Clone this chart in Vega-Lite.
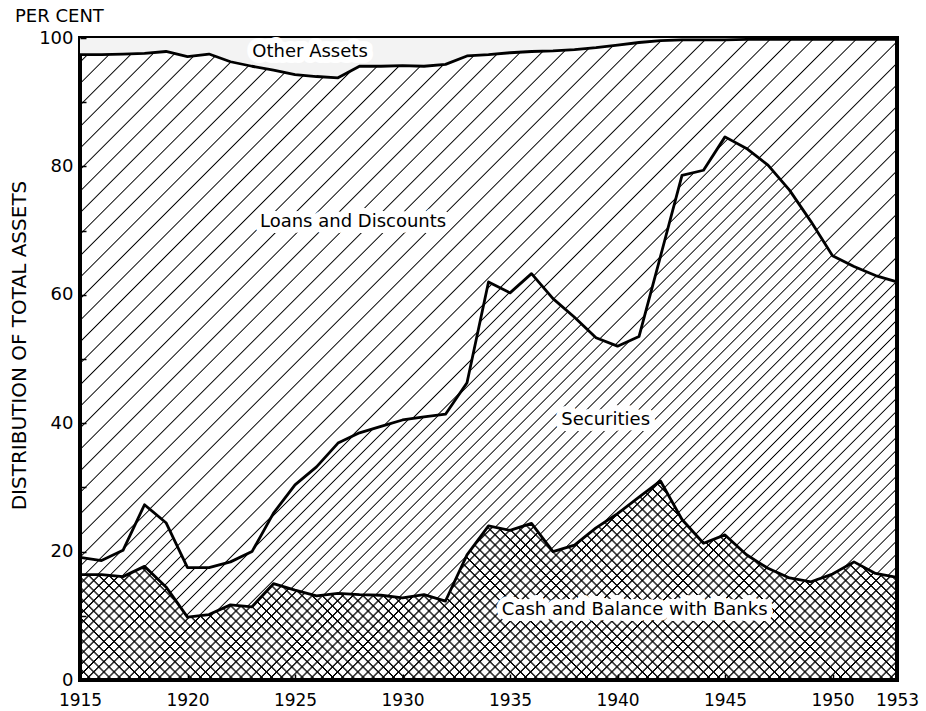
{
"width": 817, "height": 642,
"autosize": "none",
"padding": {"left": 80, "top": 38, "right": 29, "bottom": 31},
"background": "#ffffff",
"params": [
{"name": "sA", "value": [
{"offset":0,"color":"#0000"},{"offset":0.001,"color":"#000"},{"offset":0.002,"color":"#0000"},
{"offset":0.016,"color":"#0000"},{"offset":0.017,"color":"#000"},{"offset":0.018,"color":"#0000"},
{"offset":0.032,"color":"#0000"},{"offset":0.033,"color":"#000"},{"offset":0.034,"color":"#0000"},
{"offset":0.048,"color":"#0000"},{"offset":0.049,"color":"#000"},{"offset":0.05,"color":"#0000"},
{"offset":0.064,"color":"#0000"},{"offset":0.065,"color":"#000"},{"offset":0.066,"color":"#0000"},
{"offset":0.08,"color":"#0000"},{"offset":0.081,"color":"#000"},{"offset":0.082,"color":"#0000"},
{"offset":0.096,"color":"#0000"},{"offset":0.097,"color":"#000"},{"offset":0.098,"color":"#0000"},
{"offset":0.112,"color":"#0000"},{"offset":0.113,"color":"#000"},{"offset":0.114,"color":"#0000"},
{"offset":0.128,"color":"#0000"},{"offset":0.129,"color":"#000"},{"offset":0.13,"color":"#0000"},
{"offset":0.144,"color":"#0000"},{"offset":0.145,"color":"#000"},{"offset":0.146,"color":"#0000"},
{"offset":0.16,"color":"#0000"},{"offset":0.161,"color":"#000"},{"offset":0.162,"color":"#0000"},
{"offset":0.176,"color":"#0000"},{"offset":0.177,"color":"#000"},{"offset":0.178,"color":"#0000"},
{"offset":0.192,"color":"#0000"},{"offset":0.193,"color":"#000"},{"offset":0.194,"color":"#0000"},
{"offset":0.208,"color":"#0000"},{"offset":0.209,"color":"#000"},{"offset":0.21,"color":"#0000"},
{"offset":0.224,"color":"#0000"},{"offset":0.225,"color":"#000"},{"offset":0.226,"color":"#0000"},
{"offset":0.24,"color":"#0000"},{"offset":0.241,"color":"#000"},{"offset":0.242,"color":"#0000"},
{"offset":0.256,"color":"#0000"},{"offset":0.257,"color":"#000"},{"offset":0.258,"color":"#0000"},
{"offset":0.272,"color":"#0000"},{"offset":0.273,"color":"#000"},{"offset":0.274,"color":"#0000"},
{"offset":0.288,"color":"#0000"},{"offset":0.289,"color":"#000"},{"offset":0.29,"color":"#0000"},
{"offset":0.304,"color":"#0000"},{"offset":0.305,"color":"#000"},{"offset":0.306,"color":"#0000"},
{"offset":0.32,"color":"#0000"},{"offset":0.321,"color":"#000"},{"offset":0.322,"color":"#0000"},
{"offset":0.336,"color":"#0000"},{"offset":0.337,"color":"#000"},{"offset":0.338,"color":"#0000"},
{"offset":0.352,"color":"#0000"},{"offset":0.353,"color":"#000"},{"offset":0.354,"color":"#0000"},
{"offset":0.368,"color":"#0000"},{"offset":0.369,"color":"#000"},{"offset":0.37,"color":"#0000"},
{"offset":0.384,"color":"#0000"},{"offset":0.385,"color":"#000"},{"offset":0.386,"color":"#0000"},
{"offset":0.4,"color":"#0000"},{"offset":0.401,"color":"#000"},{"offset":0.402,"color":"#0000"},
{"offset":0.416,"color":"#0000"},{"offset":0.417,"color":"#000"},{"offset":0.418,"color":"#0000"},
{"offset":0.432,"color":"#0000"},{"offset":0.433,"color":"#000"},{"offset":0.434,"color":"#0000"},
{"offset":0.448,"color":"#0000"},{"offset":0.449,"color":"#000"},{"offset":0.45,"color":"#0000"},
{"offset":0.464,"color":"#0000"},{"offset":0.465,"color":"#000"},{"offset":0.466,"color":"#0000"},
{"offset":0.48,"color":"#0000"},{"offset":0.481,"color":"#000"},{"offset":0.482,"color":"#0000"},
{"offset":0.496,"color":"#0000"},{"offset":0.497,"color":"#000"},{"offset":0.498,"color":"#0000"},
{"offset":0.512,"color":"#0000"},{"offset":0.513,"color":"#000"},{"offset":0.514,"color":"#0000"},
{"offset":0.528,"color":"#0000"},{"offset":0.529,"color":"#000"},{"offset":0.53,"color":"#0000"},
{"offset":0.544,"color":"#0000"},{"offset":0.545,"color":"#000"},{"offset":0.546,"color":"#0000"},
{"offset":0.56,"color":"#0000"},{"offset":0.561,"color":"#000"},{"offset":0.562,"color":"#0000"},
{"offset":0.576,"color":"#0000"},{"offset":0.577,"color":"#000"},{"offset":0.578,"color":"#0000"},
{"offset":0.592,"color":"#0000"},{"offset":0.593,"color":"#000"},{"offset":0.594,"color":"#0000"},
{"offset":0.608,"color":"#0000"},{"offset":0.609,"color":"#000"},{"offset":0.61,"color":"#0000"},
{"offset":0.624,"color":"#0000"},{"offset":0.625,"color":"#000"},{"offset":0.626,"color":"#0000"},
{"offset":0.64,"color":"#0000"},{"offset":0.641,"color":"#000"},{"offset":0.642,"color":"#0000"},
{"offset":0.656,"color":"#0000"},{"offset":0.657,"color":"#000"},{"offset":0.658,"color":"#0000"},
{"offset":0.672,"color":"#0000"},{"offset":0.673,"color":"#000"},{"offset":0.674,"color":"#0000"},
{"offset":0.688,"color":"#0000"},{"offset":0.689,"color":"#000"},{"offset":0.69,"color":"#0000"},
{"offset":0.704,"color":"#0000"},{"offset":0.705,"color":"#000"},{"offset":0.706,"color":"#0000"},
{"offset":0.72,"color":"#0000"},{"offset":0.721,"color":"#000"},{"offset":0.722,"color":"#0000"},
{"offset":0.736,"color":"#0000"},{"offset":0.737,"color":"#000"},{"offset":0.738,"color":"#0000"},
{"offset":0.752,"color":"#0000"},{"offset":0.753,"color":"#000"},{"offset":0.754,"color":"#0000"},
{"offset":0.768,"color":"#0000"},{"offset":0.769,"color":"#000"},{"offset":0.77,"color":"#0000"},
{"offset":0.784,"color":"#0000"},{"offset":0.785,"color":"#000"},{"offset":0.786,"color":"#0000"},
{"offset":0.8,"color":"#0000"},{"offset":0.801,"color":"#000"},{"offset":0.802,"color":"#0000"},
{"offset":0.816,"color":"#0000"},{"offset":0.817,"color":"#000"},{"offset":0.818,"color":"#0000"},
{"offset":0.832,"color":"#0000"},{"offset":0.833,"color":"#000"},{"offset":0.834,"color":"#0000"},
{"offset":0.848,"color":"#0000"},{"offset":0.849,"color":"#000"},{"offset":0.85,"color":"#0000"},
{"offset":0.864,"color":"#0000"},{"offset":0.865,"color":"#000"},{"offset":0.866,"color":"#0000"},
{"offset":0.88,"color":"#0000"},{"offset":0.881,"color":"#000"},{"offset":0.882,"color":"#0000"},
{"offset":0.896,"color":"#0000"},{"offset":0.897,"color":"#000"},{"offset":0.898,"color":"#0000"},
{"offset":0.912,"color":"#0000"},{"offset":0.913,"color":"#000"},{"offset":0.914,"color":"#0000"},
{"offset":0.928,"color":"#0000"},{"offset":0.929,"color":"#000"},{"offset":0.93,"color":"#0000"},
{"offset":0.944,"color":"#0000"},{"offset":0.945,"color":"#000"},{"offset":0.946,"color":"#0000"},
{"offset":0.96,"color":"#0000"},{"offset":0.961,"color":"#000"},{"offset":0.962,"color":"#0000"},
{"offset":0.976,"color":"#0000"},{"offset":0.977,"color":"#000"},{"offset":0.978,"color":"#0000"},
{"offset":0.992,"color":"#0000"},{"offset":0.993,"color":"#000"},{"offset":0.994,"color":"#0000"}
]},
{"name": "sB", "value": [
{"offset":0,"color":"#0000"},{"offset":0.001,"color":"#000"},{"offset":0.002,"color":"#0000"},
{"offset":0.01,"color":"#0000"},{"offset":0.011,"color":"#000"},{"offset":0.012,"color":"#0000"},
{"offset":0.02,"color":"#0000"},{"offset":0.021,"color":"#000"},{"offset":0.022,"color":"#0000"},
{"offset":0.03,"color":"#0000"},{"offset":0.031,"color":"#000"},{"offset":0.032,"color":"#0000"},
{"offset":0.04,"color":"#0000"},{"offset":0.041,"color":"#000"},{"offset":0.042,"color":"#0000"},
{"offset":0.05,"color":"#0000"},{"offset":0.051,"color":"#000"},{"offset":0.052,"color":"#0000"},
{"offset":0.06,"color":"#0000"},{"offset":0.061,"color":"#000"},{"offset":0.062,"color":"#0000"},
{"offset":0.07,"color":"#0000"},{"offset":0.071,"color":"#000"},{"offset":0.072,"color":"#0000"},
{"offset":0.08,"color":"#0000"},{"offset":0.081,"color":"#000"},{"offset":0.082,"color":"#0000"},
{"offset":0.09,"color":"#0000"},{"offset":0.091,"color":"#000"},{"offset":0.092,"color":"#0000"},
{"offset":0.1,"color":"#0000"},{"offset":0.101,"color":"#000"},{"offset":0.102,"color":"#0000"},
{"offset":0.11,"color":"#0000"},{"offset":0.111,"color":"#000"},{"offset":0.112,"color":"#0000"},
{"offset":0.12,"color":"#0000"},{"offset":0.121,"color":"#000"},{"offset":0.122,"color":"#0000"},
{"offset":0.13,"color":"#0000"},{"offset":0.131,"color":"#000"},{"offset":0.132,"color":"#0000"},
{"offset":0.14,"color":"#0000"},{"offset":0.141,"color":"#000"},{"offset":0.142,"color":"#0000"},
{"offset":0.15,"color":"#0000"},{"offset":0.151,"color":"#000"},{"offset":0.152,"color":"#0000"},
{"offset":0.16,"color":"#0000"},{"offset":0.161,"color":"#000"},{"offset":0.162,"color":"#0000"},
{"offset":0.17,"color":"#0000"},{"offset":0.171,"color":"#000"},{"offset":0.172,"color":"#0000"},
{"offset":0.18,"color":"#0000"},{"offset":0.181,"color":"#000"},{"offset":0.182,"color":"#0000"},
{"offset":0.19,"color":"#0000"},{"offset":0.191,"color":"#000"},{"offset":0.192,"color":"#0000"},
{"offset":0.2,"color":"#0000"},{"offset":0.201,"color":"#000"},{"offset":0.202,"color":"#0000"},
{"offset":0.21,"color":"#0000"},{"offset":0.211,"color":"#000"},{"offset":0.212,"color":"#0000"},
{"offset":0.22,"color":"#0000"},{"offset":0.221,"color":"#000"},{"offset":0.222,"color":"#0000"},
{"offset":0.23,"color":"#0000"},{"offset":0.231,"color":"#000"},{"offset":0.232,"color":"#0000"},
{"offset":0.24,"color":"#0000"},{"offset":0.241,"color":"#000"},{"offset":0.242,"color":"#0000"},
{"offset":0.25,"color":"#0000"},{"offset":0.251,"color":"#000"},{"offset":0.252,"color":"#0000"},
{"offset":0.26,"color":"#0000"},{"offset":0.261,"color":"#000"},{"offset":0.262,"color":"#0000"},
{"offset":0.27,"color":"#0000"},{"offset":0.271,"color":"#000"},{"offset":0.272,"color":"#0000"},
{"offset":0.28,"color":"#0000"},{"offset":0.281,"color":"#000"},{"offset":0.282,"color":"#0000"},
{"offset":0.29,"color":"#0000"},{"offset":0.291,"color":"#000"},{"offset":0.292,"color":"#0000"},
{"offset":0.3,"color":"#0000"},{"offset":0.301,"color":"#000"},{"offset":0.302,"color":"#0000"},
{"offset":0.31,"color":"#0000"},{"offset":0.311,"color":"#000"},{"offset":0.312,"color":"#0000"},
{"offset":0.32,"color":"#0000"},{"offset":0.321,"color":"#000"},{"offset":0.322,"color":"#0000"},
{"offset":0.33,"color":"#0000"},{"offset":0.331,"color":"#000"},{"offset":0.332,"color":"#0000"},
{"offset":0.34,"color":"#0000"},{"offset":0.341,"color":"#000"},{"offset":0.342,"color":"#0000"},
{"offset":0.35,"color":"#0000"},{"offset":0.351,"color":"#000"},{"offset":0.352,"color":"#0000"},
{"offset":0.36,"color":"#0000"},{"offset":0.361,"color":"#000"},{"offset":0.362,"color":"#0000"},
{"offset":0.37,"color":"#0000"},{"offset":0.371,"color":"#000"},{"offset":0.372,"color":"#0000"},
{"offset":0.38,"color":"#0000"},{"offset":0.381,"color":"#000"},{"offset":0.382,"color":"#0000"},
{"offset":0.39,"color":"#0000"},{"offset":0.391,"color":"#000"},{"offset":0.392,"color":"#0000"},
{"offset":0.4,"color":"#0000"},{"offset":0.401,"color":"#000"},{"offset":0.402,"color":"#0000"},
{"offset":0.41,"color":"#0000"},{"offset":0.411,"color":"#000"},{"offset":0.412,"color":"#0000"},
{"offset":0.42,"color":"#0000"},{"offset":0.421,"color":"#000"},{"offset":0.422,"color":"#0000"},
{"offset":0.43,"color":"#0000"},{"offset":0.431,"color":"#000"},{"offset":0.432,"color":"#0000"},
{"offset":0.44,"color":"#0000"},{"offset":0.441,"color":"#000"},{"offset":0.442,"color":"#0000"},
{"offset":0.45,"color":"#0000"},{"offset":0.451,"color":"#000"},{"offset":0.452,"color":"#0000"},
{"offset":0.46,"color":"#0000"},{"offset":0.461,"color":"#000"},{"offset":0.462,"color":"#0000"},
{"offset":0.47,"color":"#0000"},{"offset":0.471,"color":"#000"},{"offset":0.472,"color":"#0000"},
{"offset":0.48,"color":"#0000"},{"offset":0.481,"color":"#000"},{"offset":0.482,"color":"#0000"},
{"offset":0.49,"color":"#0000"},{"offset":0.491,"color":"#000"},{"offset":0.492,"color":"#0000"},
{"offset":0.5,"color":"#0000"},{"offset":0.501,"color":"#000"},{"offset":0.502,"color":"#0000"},
{"offset":0.51,"color":"#0000"},{"offset":0.511,"color":"#000"},{"offset":0.512,"color":"#0000"},
{"offset":0.52,"color":"#0000"},{"offset":0.521,"color":"#000"},{"offset":0.522,"color":"#0000"},
{"offset":0.53,"color":"#0000"},{"offset":0.531,"color":"#000"},{"offset":0.532,"color":"#0000"},
{"offset":0.54,"color":"#0000"},{"offset":0.541,"color":"#000"},{"offset":0.542,"color":"#0000"},
{"offset":0.55,"color":"#0000"},{"offset":0.551,"color":"#000"},{"offset":0.552,"color":"#0000"},
{"offset":0.56,"color":"#0000"},{"offset":0.561,"color":"#000"},{"offset":0.562,"color":"#0000"},
{"offset":0.57,"color":"#0000"},{"offset":0.571,"color":"#000"},{"offset":0.572,"color":"#0000"},
{"offset":0.58,"color":"#0000"},{"offset":0.581,"color":"#000"},{"offset":0.582,"color":"#0000"},
{"offset":0.59,"color":"#0000"},{"offset":0.591,"color":"#000"},{"offset":0.592,"color":"#0000"},
{"offset":0.6,"color":"#0000"},{"offset":0.601,"color":"#000"},{"offset":0.602,"color":"#0000"},
{"offset":0.61,"color":"#0000"},{"offset":0.611,"color":"#000"},{"offset":0.612,"color":"#0000"},
{"offset":0.62,"color":"#0000"},{"offset":0.621,"color":"#000"},{"offset":0.622,"color":"#0000"},
{"offset":0.63,"color":"#0000"},{"offset":0.631,"color":"#000"},{"offset":0.632,"color":"#0000"},
{"offset":0.64,"color":"#0000"},{"offset":0.641,"color":"#000"},{"offset":0.642,"color":"#0000"},
{"offset":0.65,"color":"#0000"},{"offset":0.651,"color":"#000"},{"offset":0.652,"color":"#0000"},
{"offset":0.66,"color":"#0000"},{"offset":0.661,"color":"#000"},{"offset":0.662,"color":"#0000"},
{"offset":0.67,"color":"#0000"},{"offset":0.671,"color":"#000"},{"offset":0.672,"color":"#0000"},
{"offset":0.68,"color":"#0000"},{"offset":0.681,"color":"#000"},{"offset":0.682,"color":"#0000"},
{"offset":0.69,"color":"#0000"},{"offset":0.691,"color":"#000"},{"offset":0.692,"color":"#0000"},
{"offset":0.7,"color":"#0000"},{"offset":0.701,"color":"#000"},{"offset":0.702,"color":"#0000"},
{"offset":0.71,"color":"#0000"},{"offset":0.711,"color":"#000"},{"offset":0.712,"color":"#0000"},
{"offset":0.72,"color":"#0000"},{"offset":0.721,"color":"#000"},{"offset":0.722,"color":"#0000"},
{"offset":0.73,"color":"#0000"},{"offset":0.731,"color":"#000"},{"offset":0.732,"color":"#0000"},
{"offset":0.74,"color":"#0000"},{"offset":0.741,"color":"#000"},{"offset":0.742,"color":"#0000"},
{"offset":0.75,"color":"#0000"},{"offset":0.751,"color":"#000"},{"offset":0.752,"color":"#0000"},
{"offset":0.76,"color":"#0000"},{"offset":0.761,"color":"#000"},{"offset":0.762,"color":"#0000"},
{"offset":0.77,"color":"#0000"},{"offset":0.771,"color":"#000"},{"offset":0.772,"color":"#0000"},
{"offset":0.78,"color":"#0000"},{"offset":0.781,"color":"#000"},{"offset":0.782,"color":"#0000"},
{"offset":0.79,"color":"#0000"},{"offset":0.791,"color":"#000"},{"offset":0.792,"color":"#0000"},
{"offset":0.8,"color":"#0000"},{"offset":0.801,"color":"#000"},{"offset":0.802,"color":"#0000"},
{"offset":0.81,"color":"#0000"},{"offset":0.811,"color":"#000"},{"offset":0.812,"color":"#0000"},
{"offset":0.82,"color":"#0000"},{"offset":0.821,"color":"#000"},{"offset":0.822,"color":"#0000"},
{"offset":0.83,"color":"#0000"},{"offset":0.831,"color":"#000"},{"offset":0.832,"color":"#0000"},
{"offset":0.84,"color":"#0000"},{"offset":0.841,"color":"#000"},{"offset":0.842,"color":"#0000"},
{"offset":0.85,"color":"#0000"},{"offset":0.851,"color":"#000"},{"offset":0.852,"color":"#0000"},
{"offset":0.86,"color":"#0000"},{"offset":0.861,"color":"#000"},{"offset":0.862,"color":"#0000"},
{"offset":0.87,"color":"#0000"},{"offset":0.871,"color":"#000"},{"offset":0.872,"color":"#0000"},
{"offset":0.88,"color":"#0000"},{"offset":0.881,"color":"#000"},{"offset":0.882,"color":"#0000"},
{"offset":0.89,"color":"#0000"},{"offset":0.891,"color":"#000"},{"offset":0.892,"color":"#0000"},
{"offset":0.9,"color":"#0000"},{"offset":0.901,"color":"#000"},{"offset":0.902,"color":"#0000"},
{"offset":0.91,"color":"#0000"},{"offset":0.911,"color":"#000"},{"offset":0.912,"color":"#0000"},
{"offset":0.92,"color":"#0000"},{"offset":0.921,"color":"#000"},{"offset":0.922,"color":"#0000"},
{"offset":0.93,"color":"#0000"},{"offset":0.931,"color":"#000"},{"offset":0.932,"color":"#0000"},
{"offset":0.94,"color":"#0000"},{"offset":0.941,"color":"#000"},{"offset":0.942,"color":"#0000"},
{"offset":0.95,"color":"#0000"},{"offset":0.951,"color":"#000"},{"offset":0.952,"color":"#0000"},
{"offset":0.96,"color":"#0000"},{"offset":0.961,"color":"#000"},{"offset":0.962,"color":"#0000"},
{"offset":0.97,"color":"#0000"},{"offset":0.971,"color":"#000"},{"offset":0.972,"color":"#0000"},
{"offset":0.98,"color":"#0000"},{"offset":0.981,"color":"#000"},{"offset":0.982,"color":"#0000"},
{"offset":0.99,"color":"#0000"},{"offset":0.991,"color":"#000"},{"offset":0.992,"color":"#0000"}
]}
],
"title": {"text": "PER CENT", "anchor": "start", "frame": "group", "dx": -65, "dy": 24, "offset": 9, "baseline": "bottom", "font": "DejaVu Sans", "fontSize": 18, "fontWeight": "normal", "color": "#000"},
"config": {
  "font": "DejaVu Sans",
  "view": {"stroke": "#000", "strokeWidth": 4}
},
"datasets": {
  "shares": [
    {"year":1915,"cash":16.4,"securities_top":19.1,"loans_top":97.4},
    {"year":1916,"cash":16.4,"securities_top":18.6,"loans_top":97.4},
    {"year":1917,"cash":16.1,"securities_top":20.2,"loans_top":97.5},
    {"year":1918,"cash":17.7,"securities_top":27.3,"loans_top":97.6},
    {"year":1919,"cash":14.5,"securities_top":24.5,"loans_top":97.9},
    {"year":1920,"cash":9.8,"securities_top":17.5,"loans_top":97.1},
    {"year":1921,"cash":10.2,"securities_top":17.5,"loans_top":97.5},
    {"year":1922,"cash":11.7,"securities_top":18.4,"loans_top":96.3},
    {"year":1923,"cash":11.4,"securities_top":20.0,"loans_top":95.6},
    {"year":1924,"cash":15.0,"securities_top":26.0,"loans_top":95.0},
    {"year":1925,"cash":14.0,"securities_top":30.4,"loans_top":94.3},
    {"year":1926,"cash":13.1,"securities_top":33.2,"loans_top":94.0},
    {"year":1927,"cash":13.5,"securities_top":36.9,"loans_top":93.8},
    {"year":1928,"cash":13.3,"securities_top":38.5,"loans_top":95.6},
    {"year":1929,"cash":13.2,"securities_top":39.5,"loans_top":95.6},
    {"year":1930,"cash":12.8,"securities_top":40.5,"loans_top":95.7},
    {"year":1931,"cash":13.3,"securities_top":41.0,"loans_top":95.6},
    {"year":1932,"cash":12.3,"securities_top":41.4,"loans_top":95.9},
    {"year":1933,"cash":19.5,"securities_top":46.3,"loans_top":97.2},
    {"year":1934,"cash":24.0,"securities_top":62.0,"loans_top":97.4},
    {"year":1935,"cash":23.3,"securities_top":60.3,"loans_top":97.7},
    {"year":1936,"cash":24.4,"securities_top":63.3,"loans_top":97.9},
    {"year":1937,"cash":20.0,"securities_top":59.4,"loans_top":98.0},
    {"year":1938,"cash":21.0,"securities_top":56.5,"loans_top":98.2},
    {"year":1939,"cash":23.7,"securities_top":53.3,"loans_top":98.5},
    {"year":1940,"cash":25.9,"securities_top":52.0,"loans_top":98.9},
    {"year":1941,"cash":28.5,"securities_top":53.5,"loans_top":99.3},
    {"year":1942,"cash":31.0,"securities_top":66.0,"loans_top":99.6},
    {"year":1943,"cash":25.0,"securities_top":78.6,"loans_top":99.7},
    {"year":1944,"cash":21.3,"securities_top":79.4,"loans_top":99.7},
    {"year":1945,"cash":22.6,"securities_top":84.6,"loans_top":99.7},
    {"year":1946,"cash":19.5,"securities_top":82.8,"loans_top":99.8},
    {"year":1947,"cash":17.4,"securities_top":80.2,"loans_top":99.8},
    {"year":1948,"cash":15.9,"securities_top":76.3,"loans_top":99.8},
    {"year":1949,"cash":15.3,"securities_top":71.4,"loans_top":99.8},
    {"year":1950,"cash":16.5,"securities_top":66.1,"loans_top":99.8},
    {"year":1951,"cash":18.4,"securities_top":64.4,"loans_top":99.8},
    {"year":1952,"cash":16.6,"securities_top":63.0,"loans_top":99.8},
    {"year":1953,"cash":16.0,"securities_top":62.0,"loans_top":99.8}
  ],
  "labels": [
    {"label":"Other Assets","year":1925.7,"value":97.8},
    {"label":"Loans and Discounts","year":1927.7,"value":71.3},
    {"label":"Securities","year":1939.45,"value":40.5},
    {"label":"Cash and Balance with Banks","year":1940.8,"value":10.9}
  ]
},
"data": {"name": "shares"},
"encoding": {
  "x": {"field": "year", "type": "quantitative",
    "scale": {"domain": [1915, 1953], "nice": false, "zero": false},
    "axis": {"values": [1915,1920,1925,1930,1935,1940,1945,1950,1953], "format": "d", "title": null,
      "labelFont": "DejaVu Sans", "labelFontSize": 17, "labelColor": "#000", "labelPadding": 18,
      "tickSize": -6, "tickWidth": 1.5, "tickColor": "#000", "domain": false, "grid": false,
      "labelFlush": false, "labelOverlap": false, "labelBound": false, "zindex": 1}}
},
"layer": [
  {"mark": {"type": "area", "fill": "#f3f3f3", "opacity": 1},
   "encoding": {
     "y": {"field": "loans_top", "type": "quantitative",
       "scale": {"domain": [0, 100], "nice": false},
       "axis": {"values": [0,10,20,30,40,50,60,70,80,90,100],
         "labelExpr": "datum.value % 20 === 0 ? datum.label : ''",
         "title": "DISTRIBUTION OF TOTAL ASSETS", "titleFont": "DejaVu Sans", "titleFontSize": 20, "titleFontWeight": "normal", "titleColor": "#000",
         "titleX": -61, "titleY": 307, "titleAngle": 270, "titleAlign": "center", "titleBaseline": "middle",
         "labelFont": "DejaVu Sans", "labelFontSize": 18, "labelColor": "#000", "labelPadding": 13,
         "tickSize": -6, "tickWidth": 1.5, "tickColor": "#000", "domain": false, "grid": false,
         "labelFlush": false, "labelOverlap": false, "labelBound": false, "zindex": 1}},
     "y2": {"datum": 100}}},
  {"mark": {"type": "area", "opacity": 1, "fill": {"expr": "{gradient:'linear',x1:0,y1:0,x2:1.1611,y2:0.7509,stops:sA}"}},
   "encoding": {"y": {"field": "loans_top", "type": "quantitative"}, "y2": {"field": "securities_top"}}},
  {"mark": {"type": "area", "opacity": 1, "fill": {"expr": "{gradient:'linear',x1:0,y1:0,x2:1.1801,y2:0.6936,stops:sB}"}},
   "encoding": {"y": {"field": "securities_top", "type": "quantitative"}, "y2": {"field": "cash"}}},
  {"mark": {"type": "area", "opacity": 1, "fill": {"expr": "{gradient:'linear',x1:0,y1:0,x2:1.1739,y2:0.286,stops:sB}"}},
   "encoding": {"y": {"field": "cash", "type": "quantitative"}, "y2": {"datum": 0}}},
  {"mark": {"type": "area", "opacity": 1, "fill": {"expr": "{gradient:'linear',x1:0.0012,y1:0,x2:1.1751,y2:0.286,stops:sB}"}},
   "encoding": {"y": {"field": "cash", "type": "quantitative"}, "y2": {"datum": 0}}},
  {"mark": {"type": "area", "opacity": 1, "fill": {"expr": "{gradient:'linear',x1:0,y1:1,x2:1.1739,y2:0.714,stops:sB}"}},
   "encoding": {"y": {"field": "cash", "type": "quantitative"}, "y2": {"datum": 0}}},
  {"mark": {"type": "area", "opacity": 1, "fill": {"expr": "{gradient:'linear',x1:0.0012,y1:1,x2:1.1751,y2:0.714,stops:sB}"}},
   "encoding": {"y": {"field": "cash", "type": "quantitative"}, "y2": {"datum": 0}}},
  {"mark": {"type": "line", "color": "#000", "strokeWidth": 2.8, "strokeJoin": "round"},
   "encoding": {"y": {"field": "loans_top", "type": "quantitative"}}},
  {"mark": {"type": "line", "color": "#000", "strokeWidth": 2.8, "strokeJoin": "round"},
   "encoding": {"y": {"field": "securities_top", "type": "quantitative"}}},
  {"mark": {"type": "line", "color": "#000", "strokeWidth": 2.8, "strokeJoin": "round"},
   "encoding": {"y": {"field": "cash", "type": "quantitative"}}},
  {"data": {"name": "labels"},
   "mark": {"type": "text", "font": "DejaVu Sans", "fontSize": 18, "align": "center", "baseline": "middle", "fill": "#fff", "stroke": "#fff", "strokeWidth": 12, "strokeJoin": "round"},
   "encoding": {"y": {"field": "value", "type": "quantitative"}, "text": {"field": "label"}}},
  {"data": {"name": "labels"},
   "mark": {"type": "text", "font": "DejaVu Sans", "fontSize": 18, "align": "center", "baseline": "middle", "fill": "#000"},
   "encoding": {"y": {"field": "value", "type": "quantitative"}, "text": {"field": "label"}}}
]
}
